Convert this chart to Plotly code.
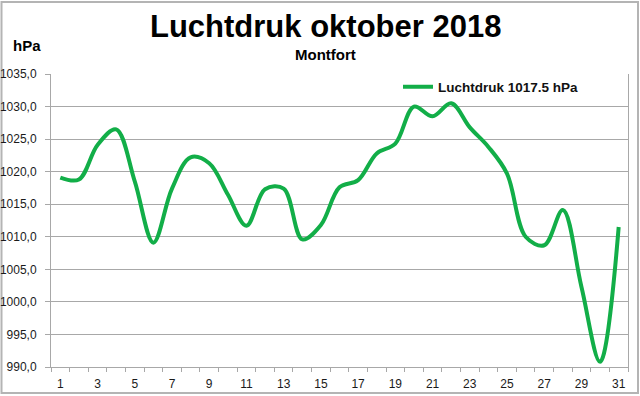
import plotly.graph_objects as go

days = list(range(1, 32))
pressure = [1019.1, 1018.8, 1024.1, 1026.5, 1018.5, 1009.1, 1017.4, 1022.2, 1021.3, 1016.5,
            1011.7, 1017.3, 1017.4, 1009.6, 1011.8, 1017.6, 1018.7, 1022.8, 1024.3, 1030.0,
            1028.5, 1030.5, 1026.8, 1023.8, 1019.7, 1010.0, 1008.7, 1014.1, 1002.3, 990.8, 1011.5]
x_tick_days = list(range(1, 32, 2))
x_tick_labels = [str(d) for d in x_tick_days]
y_ticks = [990, 995, 1000, 1005, 1010, 1015, 1020, 1025, 1030, 1035]
y_tick_labels = ["990,0", "995,0", "1000,0", "1005,0", "1010,0", "1015,0",
                 "1020,0", "1025,0", "1030,0", "1035,0"]

title = "Luchtdruk oktober 2018"
subtitle = "Montfort"
series_name = "Luchtdruk 1017.5 hPa"

W, H = 640, 396
L, R, T, B = 51, 12, 74, 29
FONT = "Liberation Sans, Arial, sans-serif"
GREEN = "#12AE48"
GRID = "#A8A8A8"

fig = go.Figure()
fig.add_trace(go.Scatter(
    x=days, y=pressure, mode="lines", name="<b>" + series_name + "</b>",
    line=dict(color=GREEN, width=4, shape="spline", smoothing=1.0),
))

pw = W - L - R
ph = H - T - B
def px(xp):
    return (xp - L) / pw
def py(yp):
    return (H - B - yp) / ph

fig.update_layout(
    width=W, height=H,
    margin=dict(l=L, r=R, t=T, b=B, pad=0, autoexpand=False),
    paper_bgcolor="white", plot_bgcolor="white",
    font=dict(family=FONT, color="#1a1a1a", size=12),
    showlegend=True,
    legend=dict(x=px(398), y=py(87), xanchor="left", yanchor="middle",
                bgcolor="rgba(0,0,0,0)", font=dict(family=FONT, size=13.5, color="#111"),
                itemwidth=30, tracegroupgap=0),
    xaxis=dict(
        range=[0.5, 31.5], tickmode="array", tickvals=x_tick_days, ticktext=x_tick_labels,
        ticks="", showgrid=False, zeroline=False, automargin=False,
        showline=True, linecolor=GRID, linewidth=1, ticklabelstandoff=6,
        tickfont=dict(size=12, color="#1a1a1a"),
        minor=dict(tickmode="array", tickvals=[d + 0.5 for d in [0] + days],
                   ticks="outside", ticklen=4, tickcolor=GRID, showgrid=False),
    ),
    yaxis=dict(
        range=[990, 1035], tickmode="array", tickvals=y_ticks, ticktext=y_tick_labels,
        ticks="outside", ticklen=5, tickcolor=GRID, automargin=False, ticklabelstandoff=6,
        showgrid=True, gridcolor=GRID, gridwidth=1, zeroline=False,
        showline=True, linecolor=GRID, linewidth=1, mirror=True,
        tickfont=dict(size=12, color="#1a1a1a"),
    ),
    annotations=[
        dict(text="<b>" + title + "</b>", xref="paper", yref="paper",
             x=px(325), y=py(26), xanchor="center", yanchor="middle", showarrow=False,
             font=dict(family=FONT, size=31, color="black")),
        dict(text="<b>" + subtitle + "</b>", xref="paper", yref="paper",
             x=px(325), y=py(54), xanchor="center", yanchor="middle", showarrow=False,
             font=dict(family=FONT, size=15, color="black")),
        dict(text="<b>hPa</b>", xref="paper", yref="paper",
             x=px(27), y=py(45), xanchor="center", yanchor="middle", showarrow=False,
             font=dict(family=FONT, size=15, color="black")),
    ],
    shapes=[
        dict(type="rect", xref="paper", yref="paper",
             x0=px(1.5), x1=px(638), y0=py(393), y1=py(2),
             line=dict(color="#B4B4B4", width=2), fillcolor="rgba(0,0,0,0)", layer="below"),
    ],
)

fig.write_html("out.html", config={"displayModeBar": False},
               post_script="document.body.style.margin='0px';")
